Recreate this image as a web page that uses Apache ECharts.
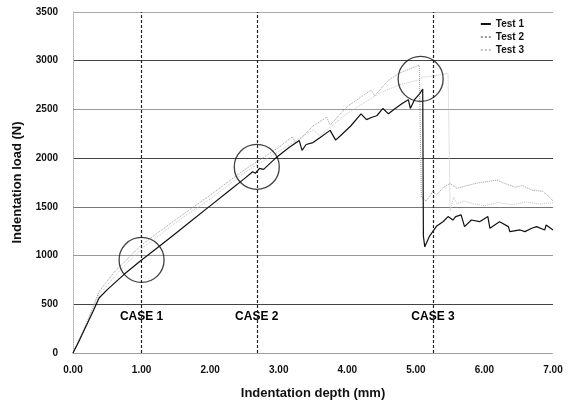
<!DOCTYPE html>
<html>
<head>
<meta charset="utf-8">
<script src="https://cdn.jsdelivr.net/npm/echarts@6/dist/echarts.min.js"></script>
<style>
  html, body { margin: 0; padding: 0; background: #fff; }
  #chart { width: 577px; height: 407px; }
</style>
</head>
<body>
<div id="chart"></div>
<script>
// depth (mm), load (N)
const test1 = [
  [0, 0], [0.1, 140], [0.2, 290], [0.3, 440], [0.38, 565], [0.5, 650], [0.75, 810],
  [1.0, 955], [1.25, 1090], [1.5, 1230], [1.75, 1370], [2.0, 1510], [2.25, 1650],
  [2.5, 1790], [2.62, 1860], [2.66, 1845], [2.72, 1895], [2.78, 1885], [2.97, 2010],
  [3.15, 2110], [3.3, 2180], [3.34, 2080], [3.4, 2140], [3.5, 2160], [3.6, 2210],
  [3.75, 2285], [3.83, 2185], [3.9, 2230], [4.05, 2330], [4.2, 2455], [4.28, 2395],
  [4.36, 2420], [4.43, 2435], [4.52, 2510], [4.6, 2455], [4.7, 2510], [4.8, 2560],
  [4.89, 2600], [4.92, 2510], [4.98, 2600], [5.06, 2665], [5.1, 2710], [5.11, 1200],
  [5.13, 1090], [5.2, 1200], [5.3, 1300], [5.4, 1350], [5.47, 1400], [5.54, 1365],
  [5.58, 1400], [5.66, 1417], [5.71, 1297], [5.81, 1365], [5.93, 1348], [6.05, 1400],
  [6.08, 1280], [6.22, 1348], [6.35, 1297], [6.37, 1246], [6.52, 1263], [6.59, 1246],
  [6.69, 1280], [6.76, 1297], [6.88, 1263], [6.9, 1314], [7.0, 1263]
];
const test2 = [
  [0, 0], [0.2, 310], [0.38, 630], [0.6, 830], [1.0, 1110], [1.5, 1370], [2.0, 1620],
  [2.5, 1880], [3.0, 2110], [3.2, 2220], [3.25, 2150], [3.5, 2330], [3.7, 2420],
  [3.75, 2340], [4.0, 2530], [4.35, 2700], [4.4, 2640], [4.6, 2800], [4.77, 2875],
  [5.05, 2955], [5.08, 1600], [5.15, 1560], [5.25, 1660], [5.3, 1620], [5.4, 1700],
  [5.5, 1740], [5.6, 1690], [5.75, 1720], [5.9, 1745], [6.05, 1760], [6.18, 1775],
  [6.3, 1740], [6.45, 1700], [6.55, 1720], [6.7, 1670], [6.85, 1660], [6.95, 1600],
  [7.0, 1560]
];
const test3 = [
  [0, 0], [0.2, 300], [0.38, 600], [0.7, 860], [1.0, 1070], [1.5, 1340], [2.0, 1580],
  [2.5, 1850], [3.0, 2070], [3.5, 2290], [3.6, 2230], [4.0, 2460], [4.5, 2680],
  [4.8, 2760], [5.03, 2800], [5.1, 2830], [5.3, 2850], [5.47, 2870], [5.5, 1460],
  [5.55, 1600], [5.6, 1530], [5.7, 1560], [5.85, 1530], [6.0, 1510], [6.2, 1545],
  [6.4, 1520], [6.6, 1550], [6.8, 1530], [7.0, 1540]
];

const caseDepths = [1.0, 2.68, 5.25];
const caseNames = ['CASE 1', 'CASE 2', 'CASE 3'];
const caseLabelLoad = 370;
const circleCentres = [[1.0, 955], [2.68, 1910], [5.07, 2813]];

const yTicks = [0, 500, 1000, 1500, 2000, 2500, 3000, 3500];
const gridColours = ['#bbb', '#444', '#999', '#777', '#444', '#999', '#444', '#aaa'];

const font = 'Liberation Sans, Arial, sans-serif';
const chart = echarts.init(document.getElementById('chart'));

chart.setOption({
  animation: false,
  backgroundColor: '#fff',
  grid: { left: 73, right: 24, top: 12, bottom: 54 },
  legend: {
    data: ['Test 1', 'Test 2', 'Test 3'],
    orient: 'vertical',
    right: 48,
    top: 14,
    itemWidth: 10,
    itemHeight: 2,
    itemGap: 3,
    textStyle: { fontFamily: font, fontWeight: 'bold', fontSize: 10, color: '#111' }
  },
  xAxis: {
    type: 'value',
    min: 0,
    max: 7,
    interval: 1,
    name: 'Indentation depth (mm)',
    nameLocation: 'middle',
    nameGap: 34,
    nameTextStyle: { fontFamily: font, fontWeight: 'bold', fontSize: 13, color: '#111' },
    axisLine: { show: true, lineStyle: { color: '#999', type: 'dotted' } },
    axisTick: { show: false },
    splitLine: { show: false },
    axisLabel: {
      margin: 12,
      fontFamily: font, fontWeight: 'bold', fontSize: 10, color: '#111',
      formatter: v => v.toFixed(2)
    }
  },
  yAxis: {
    type: 'value',
    min: 0,
    max: 3500,
    interval: 500,
    name: 'Indentation load (N)',
    nameLocation: 'middle',
    nameGap: 49,
    nameTextStyle: { fontFamily: font, fontWeight: 'bold', fontSize: 13, color: '#111' },
    axisLine: { show: true, lineStyle: { color: '#aaa', type: 'dotted' } },
    axisTick: { show: false },
    splitLine: { show: true, lineStyle: { color: gridColours, width: 1 } },
    axisLabel: {
      margin: 15,
      fontFamily: font, fontWeight: 'bold', fontSize: 10, color: '#111',
      formatter: v => yTicks.includes(v) ? String(v) : ''
    }
  },
  series: [
    {
      name: 'Test 3',
      type: 'line',
      data: test3,
      symbol: 'none',
      lineStyle: { color: '#c4c4c4', width: 1, type: 'dotted' },
      itemStyle: { color: '#c4c4c4' },
      z: 2
    },
    {
      name: 'Test 2',
      type: 'line',
      data: test2,
      symbol: 'none',
      lineStyle: { color: '#9a9a9a', width: 1, type: 'dotted' },
      itemStyle: { color: '#9a9a9a' },
      z: 3
    },
    {
      name: 'Test 1',
      type: 'line',
      data: test1,
      symbol: 'none',
      lineStyle: { color: '#111', width: 1.2 },
      itemStyle: { color: '#111' },
      z: 4,
      markLine: {
        silent: true,
        symbol: 'none',
        label: { show: false },
        lineStyle: { color: '#222', type: [3, 2], width: 1.2 },
        data: caseDepths.map(d => ({ xAxis: d }))
      }
    },
    {
      name: 'circles',
      type: 'scatter',
      data: circleCentres,
      symbol: 'circle',
      symbolSize: 45,
      itemStyle: { color: 'rgba(0,0,0,0)', borderColor: '#111', borderWidth: 1.3 },
      z: 5
    },
    {
      name: 'cases',
      type: 'scatter',
      data: caseDepths.map((d, i) => ({ value: [d, caseLabelLoad], name: caseNames[i] })),
      symbolSize: 0,
      itemStyle: { color: '#111', opacity: 1 },
      label: {
        show: true,
        position: 'inside',
        formatter: p => p.name,
        fontFamily: font, fontWeight: 'bold', fontSize: 12, color: '#000',
        textBorderWidth: 0, opacity: 1
      },
      z: 6
    }
  ]
});
</script>
</body>
</html>
